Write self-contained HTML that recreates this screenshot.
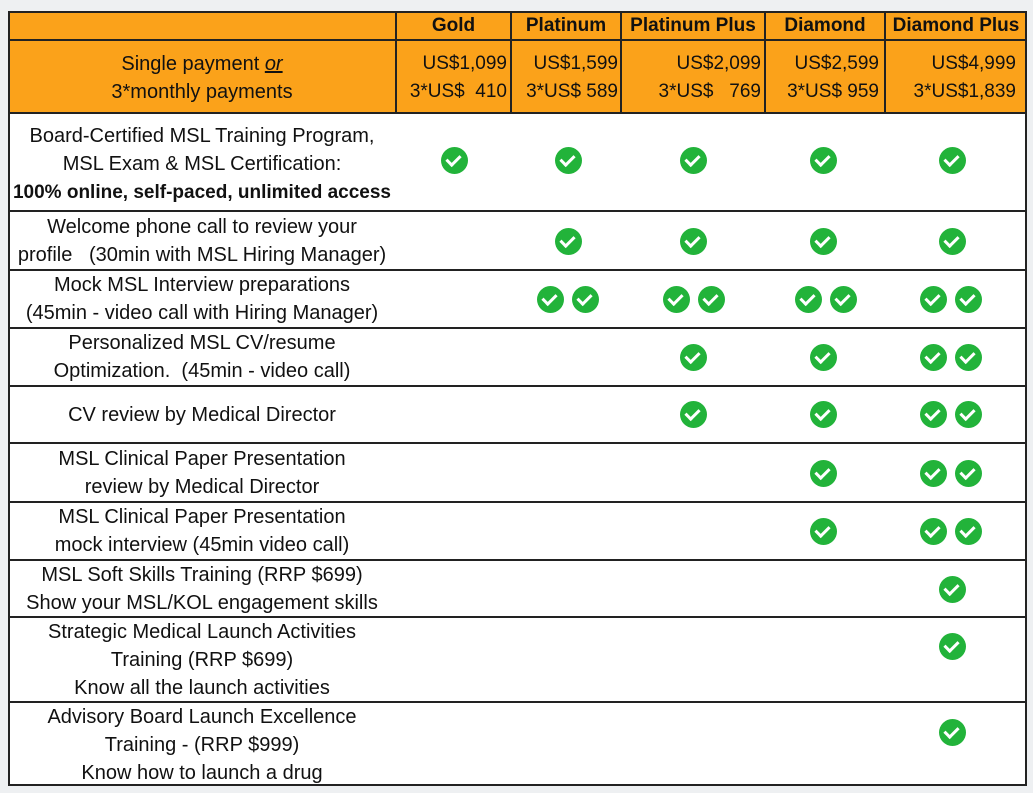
<!DOCTYPE html>
<html><head><meta charset="utf-8"><style>
body{margin:0;width:1033px;height:793px;background:#eef0f2;position:relative;overflow:hidden;font-family:"Liberation Sans",sans-serif;color:#111}
.t{position:absolute;left:8px;top:11px;width:1019px;height:775px;background:#fff;border:2px solid #222;box-sizing:border-box}
.or{position:absolute;background:#fba21a}
.h{position:absolute;height:2px;background:#222;left:8px;width:1019px}
.v{position:absolute;width:2px;background:#222;top:11px;height:102px}
.tx{position:absolute;text-align:center;font-size:20px;line-height:28px;white-space:nowrap}
.hd{font-weight:bold;font-size:19px}
.c{position:absolute;width:27px;height:27px;border-radius:50%;background:#22b33a;margin:-13px 0 0 -13px}
.c:after{content:"";position:absolute;left:8px;top:5px;width:6px;height:11px;border:solid #fff;border-width:0 3.5px 3.5px 0;transform:rotate(45deg)}
.p{position:absolute;font-size:19px;line-height:28px;text-align:right;white-space:pre}
</style></head><body>
<div class="t"></div>
<div class="or" style="left:10px;top:13px;width:1015px;height:99px"></div>
<div class="h" style="top:39px"></div>
<div class="h" style="top:112px"></div>
<div class="v" style="left:395px"></div><div class="v" style="left:510px"></div><div class="v" style="left:620px"></div><div class="v" style="left:764px"></div><div class="v" style="left:884px"></div>
<div class="h" style="top:210px"></div><div class="h" style="top:269px"></div><div class="h" style="top:327px"></div><div class="h" style="top:385px"></div><div class="h" style="top:442px"></div><div class="h" style="top:501px"></div><div class="h" style="top:559px"></div><div class="h" style="top:616px"></div><div class="h" style="top:701px"></div>

<div class="tx hd" style="left:396px;width:115px;top:12px">Gold</div>
<div class="tx hd" style="left:511px;width:110px;top:12px">Platinum</div>
<div class="tx hd" style="left:621px;width:144px;top:12px">Platinum Plus</div>
<div class="tx hd" style="left:765px;width:120px;top:12px">Diamond</div>
<div class="tx hd" style="left:885px;width:142px;top:12px">Diamond Plus</div>

<div class="tx" style="left:8px;width:388px;top:50px">Single payment <i><u>or</u></i><br>3*monthly payments</div>
<div class="p" style="left:396px;width:111px;top:50px">US$1,099
3*US$  410</div>
<div class="p" style="left:511px;width:107px;top:50px">US$1,599
3*US$ 589</div>
<div class="p" style="left:621px;width:140px;top:50px">US$2,099
3*US$   769</div>
<div class="p" style="left:765px;width:114px;top:50px">US$2,599
3*US$ 959</div>
<div class="p" style="left:885px;width:131px;top:50px">US$4,999
3*US$1,839</div>

<div class="tx" style="left:8px;width:388px;top:122px">Board-Certified MSL Training Program,<br>MSL Exam &amp; MSL Certification:<br><b style="font-size:19px">100% online, self-paced, unlimited access</b></div>
<div class="tx" style="left:8px;width:388px;top:213px">Welcome phone call to review your<br>profile &nbsp;&nbsp;(30min with MSL Hiring Manager)</div>
<div class="tx" style="left:8px;width:388px;top:271px">Mock MSL Interview preparations<br>(45min - video call with Hiring Manager)</div>
<div class="tx" style="left:8px;width:388px;top:329px">Personalized MSL CV/resume<br>Optimization. &nbsp;(45min - video call)</div>
<div class="tx" style="left:8px;width:388px;top:401px">CV review by Medical Director</div>
<div class="tx" style="left:8px;width:388px;top:445px">MSL Clinical Paper Presentation<br>review by Medical Director</div>
<div class="tx" style="left:8px;width:388px;top:503px">MSL Clinical Paper Presentation<br>mock interview (45min video call)</div>
<div class="tx" style="left:8px;width:388px;top:561px">MSL Soft Skills Training (RRP $699)<br>Show your MSL/KOL engagement skills</div>
<div class="tx" style="left:8px;width:388px;top:618px">Strategic Medical Launch Activities<br>Training (RRP $699)<br>Know all the launch activities</div>
<div class="tx" style="left:8px;width:388px;top:703px">Advisory Board Launch Excellence<br>Training - (RRP $999)<br>Know how to launch a drug</div>

<div class="c" style="left:454px;top:160px"></div><div class="c" style="left:568px;top:160px"></div><div class="c" style="left:693px;top:160px"></div><div class="c" style="left:823px;top:160px"></div><div class="c" style="left:952px;top:160px"></div>
<div class="c" style="left:568px;top:241px"></div><div class="c" style="left:693px;top:241px"></div><div class="c" style="left:823px;top:241px"></div><div class="c" style="left:952px;top:241px"></div>
<div class="c" style="left:550px;top:299px"></div><div class="c" style="left:585px;top:299px"></div><div class="c" style="left:676px;top:299px"></div><div class="c" style="left:711px;top:299px"></div><div class="c" style="left:808px;top:299px"></div><div class="c" style="left:843px;top:299px"></div><div class="c" style="left:933px;top:299px"></div><div class="c" style="left:968px;top:299px"></div>
<div class="c" style="left:693px;top:357px"></div><div class="c" style="left:823px;top:357px"></div><div class="c" style="left:933px;top:357px"></div><div class="c" style="left:968px;top:357px"></div>
<div class="c" style="left:693px;top:414px"></div><div class="c" style="left:823px;top:414px"></div><div class="c" style="left:933px;top:414px"></div><div class="c" style="left:968px;top:414px"></div>
<div class="c" style="left:823px;top:473px"></div><div class="c" style="left:933px;top:473px"></div><div class="c" style="left:968px;top:473px"></div>
<div class="c" style="left:823px;top:531px"></div><div class="c" style="left:933px;top:531px"></div><div class="c" style="left:968px;top:531px"></div>
<div class="c" style="left:952px;top:589px"></div>
<div class="c" style="left:952px;top:646px"></div>
<div class="c" style="left:952px;top:732px"></div>
</body></html>
